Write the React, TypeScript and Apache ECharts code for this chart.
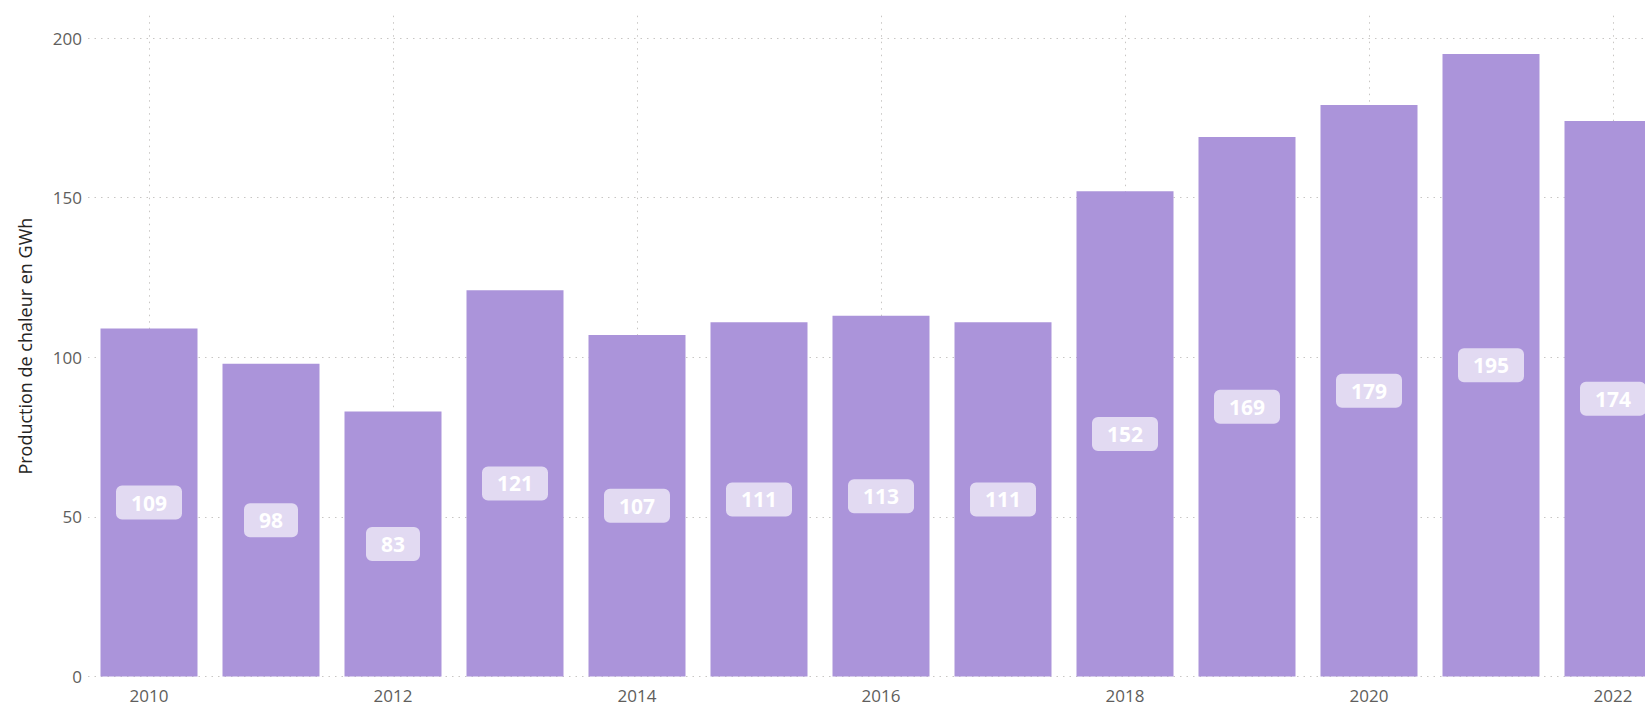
import React, { useEffect, useRef } from "react";
import * as echarts from "echarts";

const years = ["2010", "2011", "2012", "2013", "2014", "2015", "2016", "2017", "2018", "2019", "2020", "2021", "2022"];
const production = [109, 98, 83, 121, 107, 111, 113, 111, 152, 169, 179, 195, 174];
const yAxisTitle = "Production de chaleur en GWh";

export default function App() {
  const ref = useRef<HTMLDivElement>(null);
  useEffect(() => {
    if (!ref.current) return;
    const chart = echarts.init(ref.current, undefined, { renderer: "svg" });
    const font = "'Segoe UI', 'Open Sans', 'Noto Sans', sans-serif";
    const gridTop = 15.7;
    const gridBottom = 30.4;
    chart.setOption({
      animation: false,
      backgroundColor: "#ffffff",
      grid: { left: 88, right: 0, top: gridTop, bottom: gridBottom, containLabel: false },
      graphic: [
        {
          type: "text",
          x: 25,
          y: (gridTop + (707 - gridBottom)) / 2,
          rotation: Math.PI / 2,
          style: {
            text: yAxisTitle,
            fill: "#252423",
            fontSize: 18,
            fontFamily: font,
            align: "center",
            verticalAlign: "middle",
          },
        },
      ],
      xAxis: {
        type: "category",
        data: years,
        axisLine: { show: false },
        axisTick: { show: false, alignWithLabel: true },
        axisLabel: { interval: 1, color: "#605E5C", fontSize: 17, fontFamily: font, margin: 10 },
        splitLine: {
          show: true,
          interval: 1,
          alignWithLabel: true,
          lineStyle: { color: "#C8C6C4", type: [1.5, 5], width: 1 },
        },
      },
      yAxis: {
        type: "value",
        min: 0,
        max: 207,
        interval: 50,
        axisLine: { show: false },
        axisTick: { show: false },
        axisLabel: { color: "#605E5C", fontSize: 17, fontFamily: font, margin: 6, showMaxLabel: false },
        splitLine: {
          show: true,
          showMaxLine: false,
          lineStyle: { color: "#C8C6C4", type: [1.5, 5], width: 1 },
        },
      },
      series: [
        {
          type: "bar",
          data: production,
          barWidth: 97,
          itemStyle: { color: "#AB94DA" },
          label: {
            show: true,
            position: "inside",
            color: "#ffffff",
            fontWeight: "bold",
            fontSize: 21,
            fontFamily: font,
            backgroundColor: "rgba(255,255,255,0.65)",
            borderRadius: 6,
            padding: [7, 15, 6, 15],
          },
        },
      ],
    });
    return () => chart.dispose();
  }, []);
  return (
    <div style={{ position: "fixed", left: 0, top: 0, width: 1645, height: 707, overflow: "hidden" }}>
      <div ref={ref} style={{ position: "absolute", left: 0, top: 0, width: 1674, height: 707 }} />
    </div>
  );
}
